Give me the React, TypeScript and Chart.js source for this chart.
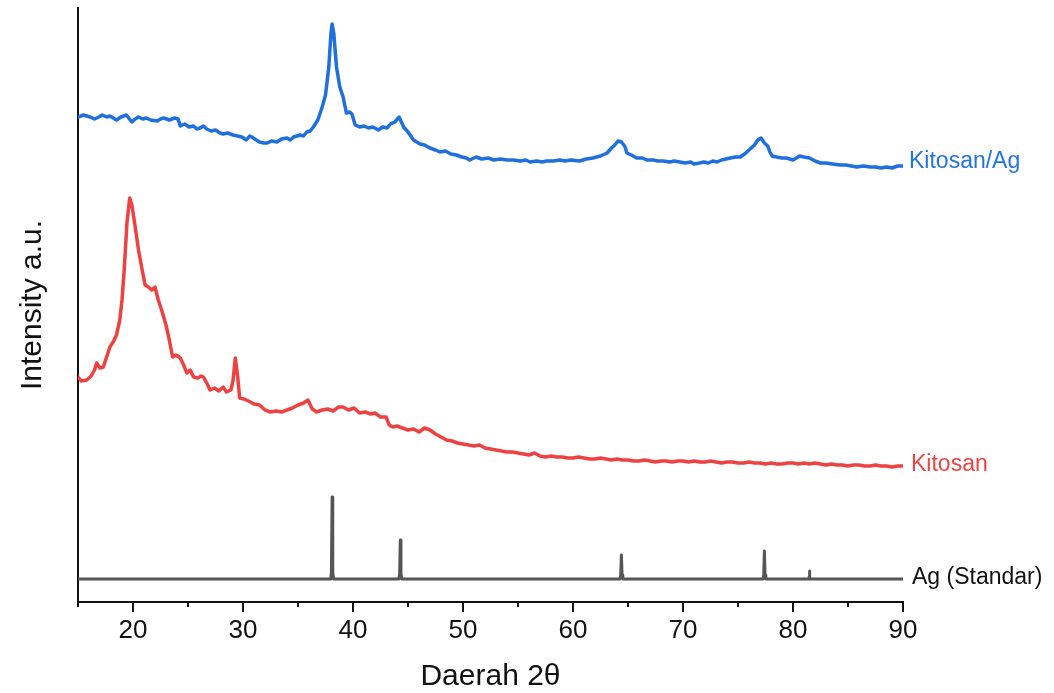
import React, { useEffect, useRef } from "react";
import { Chart, registerables } from "chart.js";

Chart.register(...registerables);

// ---------- Data ----------
const X_MIN = 15;
const X_MAX = 90;
const X_STEP = 5;
const Y_MIN = 0;
const Y_MAX = 594;

const xTitle = "Daerah 2θ";
const yTitle = "Intensity a.u.";
const seriesNames = ["Kitosan/Ag", "Kitosan", "Ag (Standar)"];

const kitosanAgTheta = [
  15.0, 15.5, 16.1, 16.5, 16.9, 17.2, 17.6, 17.9, 18.2, 18.5, 18.9, 19.4, 19.9, 20.2, 20.5, 20.9,
  21.2, 21.6, 22.2, 22.5, 22.8, 23.3, 23.8, 24.1, 24.3, 24.7, 25.1, 25.5, 25.8, 26.1, 26.4, 26.7,
  27.1, 27.5, 27.9, 28.2, 28.6, 29.1, 29.5, 29.9, 30.3, 30.6, 30.8, 31.2, 31.5, 31.9, 32.2, 32.6,
  33.1, 33.5, 34.0, 34.3, 34.6, 35.2, 35.5, 35.8, 36.1, 36.4, 36.8, 37.2, 37.5, 37.8, 38.0, 38.1,
  38.25, 38.5, 38.8, 39.1, 39.4, 39.7, 39.9, 40.2, 40.6, 41.0, 41.4, 41.8, 42.3, 42.7, 43.1, 43.4,
  43.8, 44.2, 44.4, 44.6, 45.0, 45.5, 46.1, 46.5, 47.0, 47.5, 47.9, 48.4, 48.9, 49.4, 49.9, 50.3,
  50.6, 51.2, 51.7, 52.3, 52.8, 53.4, 54.0, 54.6, 55.2, 55.7, 56.1, 56.7, 57.2, 57.6, 58.2, 58.8,
  59.3, 59.8, 60.6, 61.2, 61.8, 62.5, 63.1, 63.5, 63.8, 64.1, 64.4, 64.7, 64.9, 65.3, 65.8, 66.3,
  66.7, 67.3, 67.7, 68.2, 68.8, 69.2, 69.7, 70.2, 70.7, 71.0, 71.5, 71.9, 72.3, 72.7, 73.1, 73.5,
  73.9, 74.3, 74.8, 75.2, 75.6, 76.1, 76.5, 76.8, 77.1, 77.4, 77.7, 77.9, 78.1, 78.5, 79.0, 79.4,
  80.0, 80.3, 80.6, 81.0, 81.5, 82.0, 82.5, 83.0, 83.6, 84.3, 84.8, 85.3, 85.8, 86.4, 87.0, 87.5,
  88.0, 88.5, 89.0, 89.5, 90.0,
];
const kitosanAgIntensity = [
  485, 487, 485, 483, 485, 487, 485, 486, 484, 482, 485, 487, 480, 483, 485, 483,
  484, 482, 481, 483, 484, 482, 484, 483, 476, 478, 475, 476, 473, 474, 476, 473,
  471, 472, 469, 468, 469, 467, 466, 465, 462, 466, 465, 462, 460, 459, 459, 461,
  460, 463, 464, 462, 465, 467, 466, 470, 471, 475, 482, 495, 507, 535, 569, 578,
  569, 535, 515, 505, 489, 490, 488, 477, 475, 476, 474, 475, 472, 475, 474, 478,
  480, 485, 480, 475, 470, 462, 458, 457, 454, 452, 450, 451, 448, 447, 445, 444,
  442, 445, 443, 444, 442, 443, 442, 442, 441, 442, 440, 441, 440, 441, 441, 442,
  441, 442, 441, 443, 444, 446, 449, 454, 457, 461, 460, 456, 449, 447, 444, 444,
  442, 442, 441, 441, 440, 441, 440, 439, 440, 438, 439, 440, 439, 441, 440, 442,
  443, 444, 445, 445, 448, 453, 457, 462, 464, 459, 456, 450, 446, 445, 444, 444,
  442, 444, 446, 445, 444, 441, 439, 439, 438, 437, 437, 436, 435, 436, 435, 435,
  434, 435, 434, 436, 436,
];

const kitosanTheta = [
  15.0, 15.3, 15.8, 16.2, 16.5, 16.7, 17.0, 17.3, 17.6, 17.9, 18.2, 18.5, 18.8, 19.0, 19.2, 19.45,
  19.7, 19.9, 20.2, 20.5, 20.8, 21.1, 21.4, 21.7, 22.0, 22.3, 22.6, 23.0, 23.3, 23.6, 23.9, 24.3,
  24.6, 24.9, 25.2, 25.5, 25.9, 26.2, 26.4, 26.8, 27.0, 27.4, 27.8, 28.2, 28.5, 28.9, 29.1, 29.3,
  29.5, 29.7, 30.1, 30.5, 31.0, 31.5, 32.0, 32.5, 33.0, 33.5, 34.0, 34.5, 35.0, 35.5, 35.9, 36.3,
  36.7, 37.2, 37.7, 38.2, 38.7, 39.1, 39.6, 40.1, 40.6, 41.1, 41.6, 42.0, 42.5, 43.0, 43.3, 43.6,
  44.0, 44.5, 45.0, 45.5, 46.0, 46.5, 47.0, 47.5, 48.0, 48.5, 49.0, 49.5, 50.0, 50.5, 51.0, 51.5,
  52.0, 52.5, 53.0, 53.5, 54.0, 54.5, 55.0, 55.5, 56.0, 56.5, 57.0, 57.5, 58.0, 58.5, 59.0, 59.5,
  60.0, 60.5, 61.0, 61.5, 62.0, 62.5, 63.0, 63.5, 64.0, 64.5, 65.0, 65.5, 66.0, 66.5, 67.0, 67.5,
  68.0, 68.5, 69.0, 69.5, 70.0, 70.5, 71.0, 71.5, 72.0, 72.5, 73.0, 73.5, 74.0, 74.5, 75.0, 75.5,
  76.0, 76.5, 77.0, 77.5, 78.0, 78.5, 79.0, 79.5, 80.0, 80.5, 81.0, 81.5, 82.0, 82.5, 83.0, 83.5,
  84.0, 84.5, 85.0, 85.5, 86.0, 86.5, 87.0, 87.5, 88.0, 88.5, 89.0, 89.5, 90.0,
];
const kitosanIntensity = [
  225, 221, 222, 226, 232, 239, 234, 235, 245, 255, 260, 267, 282, 302, 332, 379,
  404, 397, 375, 352, 334, 317, 315, 312, 315, 302, 292, 277, 262, 245, 247, 244,
  237, 229, 232, 225, 224, 226, 225, 217, 212, 214, 211, 215, 210, 212, 222, 244,
  227, 204, 203, 201, 198, 197, 192, 190, 191, 190, 192, 194, 197, 199, 202, 193,
  190, 192, 193, 191, 195, 195, 192, 194, 189, 190, 188, 189, 185, 185, 177, 175,
  176, 174, 172, 173, 170, 174, 172, 168, 165, 162, 161, 159, 158, 157, 156, 157,
  154, 153, 152, 151, 150, 150, 149, 148, 147, 149, 146, 145, 146, 145, 145, 144,
  144, 145, 144, 143, 143, 144, 143, 142, 143, 142, 142, 141, 141, 142, 141, 140,
  141, 141, 140, 141, 141, 140, 141, 140, 140, 141, 140, 139, 140, 140, 139, 139,
  140, 139, 139, 138, 139, 138, 138, 139, 139, 138, 139, 138, 139, 138, 137, 138,
  137, 137, 136, 137, 137, 136, 136, 137, 136, 136, 135, 136, 136,
];

const agStdTheta = [
  15.0, 37.97, 38.04, 38.1, 38.16, 38.23, 44.17, 44.24, 44.3, 44.36, 44.43,
  64.27, 64.34, 64.4, 64.46, 64.53, 77.27, 77.34, 77.4, 77.46, 77.53,
  81.42, 81.47, 81.5, 81.53, 81.58, 90.0,
];
const agStdIntensity = [
  23, 23, 30, 105, 30, 23, 23, 28, 62, 28, 23,
  23, 27, 47, 27, 23, 23, 27, 51, 27, 23,
  23, 25, 31, 25, 23, 23,
];

// ---------- Styles ----------
const FONT = "'Liberation Sans', Arial, Helvetica, sans-serif";
const lineColors = ["#1f6fde", "#ee4242", "#555555"];
const labelColors = ["#2274e0", "#ee4444", "#111111"];
const labelOffsetX = [6, 8, 9];
const labelOffsetY = [-4, -1, -1];

const toPoints = (xs: number[], ys: number[]) => xs.map((x, i) => ({ x, y: ys[i] }));

const endLabelsPlugin = {
  id: "endLabels",
  afterDatasetsDraw(chart: any) {
    const ctx = chart.ctx;
    chart.data.datasets.forEach((_ds: any, i: number) => {
      const meta = chart.getDatasetMeta(i);
      const pt = meta.data[meta.data.length - 1];
      if (!pt) return;
      ctx.save();
      ctx.font = `23px ${FONT}`;
      ctx.fillStyle = labelColors[i];
      ctx.textBaseline = "middle";
      ctx.textAlign = "left";
      ctx.fillText(seriesNames[i], pt.x + labelOffsetX[i], pt.y + labelOffsetY[i]);
      ctx.restore();
    });
  },
};

const tickMarksPlugin = {
  id: "tickMarks",
  afterDraw(chart: any) {
    const xs = chart.scales.x;
    const ctx = chart.ctx;
    const y0 = chart.chartArea.bottom;
    ctx.save();
    ctx.strokeStyle = "#111111";
    ctx.lineWidth = 2;
    xs.ticks.forEach((t: any) => {
      const px = Math.round(xs.getPixelForValue(t.value));
      const major = t.value % 10 === 0;
      ctx.beginPath();
      ctx.moveTo(px, y0);
      ctx.lineTo(px, y0 + (major ? 10 : 5));
      ctx.stroke();
    });
    ctx.restore();
  },
};

export default function App() {
  const canvasRef = useRef<HTMLCanvasElement | null>(null);

  useEffect(() => {
    if (!canvasRef.current) return;
    const chart = new Chart(canvasRef.current, {
      type: "line",
      data: {
        datasets: [
          {
            label: seriesNames[0],
            data: toPoints(kitosanAgTheta, kitosanAgIntensity),
            borderColor: lineColors[0],
            borderWidth: 3.5,
            pointRadius: 0,
            tension: 0,
          },
          {
            label: seriesNames[1],
            data: toPoints(kitosanTheta, kitosanIntensity),
            borderColor: lineColors[1],
            borderWidth: 3.5,
            pointRadius: 0,
            tension: 0,
          },
          {
            label: seriesNames[2],
            data: toPoints(agStdTheta, agStdIntensity),
            borderColor: lineColors[2],
            borderWidth: 3,
            pointRadius: 0,
            tension: 0,
          },
        ],
      },
      options: {
        responsive: false,
        animation: false,
        events: [],
        layout: { padding: { top: 8, right: 151, bottom: 0, left: 0 } },
        plugins: {
          legend: { display: false },
          tooltip: { enabled: false },
        },
        elements: { line: { borderJoinStyle: "round", borderCapStyle: "round" } },
        scales: {
          x: {
            type: "linear",
            min: X_MIN,
            max: X_MAX,
            grid: { display: false, drawTicks: false, tickLength: 0 },
            border: { display: true, color: "#111111", width: 2 },
            ticks: {
              stepSize: X_STEP,
              autoSkip: false,
              maxRotation: 0,
              padding: 13,
              color: "#111111",
              font: { family: FONT, size: 26 },
              callback: (v: any) => (Number(v) % 10 === 0 ? String(v) : ""),
            },
            title: {
              display: true,
              text: xTitle,
              color: "#111111",
              font: { family: FONT, size: 30 },
              padding: { top: 0, bottom: -2 },
            },
            afterFit: (scale: any) => {
              scale.height = 91;
            },
          },
          y: {
            type: "linear",
            min: Y_MIN,
            max: Y_MAX,
            grid: { display: false, drawTicks: false, tickLength: 0 },
            border: { display: true, color: "#111111", width: 2 },
            ticks: { display: false },
            title: {
              display: true,
              text: yTitle,
              color: "#111111",
              font: { family: FONT, size: 30 },
              padding: { top: 15, bottom: 0 },
            },
            afterFit: (scale: any) => {
              scale.width = 78;
            },
          },
        },
      },
      plugins: [endLabelsPlugin, tickMarksPlugin],
    });
    return () => chart.destroy();
  }, []);

  return (
    <div style={{ position: "absolute", left: 0, top: 0, width: 1054, height: 693, background: "#ffffff" }}>
      <canvas ref={canvasRef} width={1054} height={693} />
    </div>
  );
}
